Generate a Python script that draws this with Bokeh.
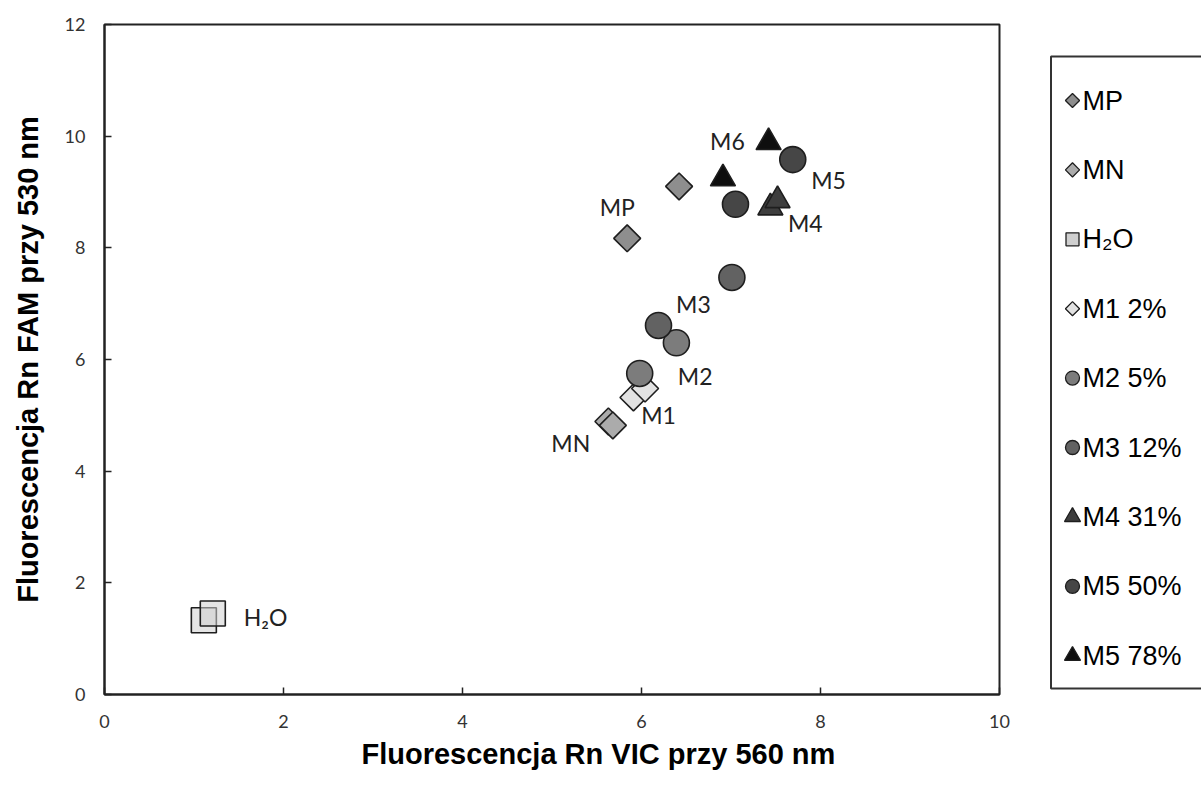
from bokeh.plotting import figure
from bokeh.models import Range1d, FixedTicker, ColumnDataSource, Title
from bokeh.layouts import row
from bokeh.core.properties import value
from bokeh.embed import file_html
from bokeh.resources import INLINE
import math

# ---- data ----
mp_x = [5.84, 6.42]
mp_y = [8.17, 9.10]
mn_x = [5.63, 5.68]
mn_y = [4.89, 4.82]
h2o_x = [1.11, 1.21]
h2o_y = [1.33, 1.45]
m1_x = [5.91, 6.04]
m1_y = [5.32, 5.48]
m2_x = [5.98, 6.39]
m2_y = [5.75, 6.30]
m3_x = [6.19, 7.01]
m3_y = [6.61, 7.47]
m4_x = [7.44, 7.52]
m4_y = [8.72, 8.85]
m5_x = [7.05, 7.69]
m5_y = [8.78, 9.58]
m6_x = [6.91, 7.42]
m6_y = [9.24, 9.89]

legend_labels = ["MP", "MN", "H\u2082O", "M1 2%", "M2 5%", "M3 12%", "M4 31%", "M5 50%", "M5 78%"]

point_labels = ["M6", "M5", "MP", "M4", "M3", "M2", "M1", "MN", "H\u2082O"]
point_label_x = [6.96, 8.09, 5.73, 7.83, 6.58, 6.60, 6.19, 5.21, 1.80]
point_label_y = [9.92, 9.21, 8.74, 8.44, 7.00, 5.71, 5.00, 4.51, 1.39]

x_ticks = [0, 2, 4, 6, 8, 10]
y_ticks = [0, 2, 4, 6, 8, 10, 12]

x_title = "Fluorescencja Rn VIC przy 560 nm"
y_title = "Fluorescencja Rn FAM przy 530 nm"

# ---- styles per series ----
edge = "#1e1e1e"
styles = [
    dict(marker="square", angle=math.pi / 4, fill="#8e8e8e", size=19, lsize=10),   # MP
    dict(marker="square", angle=math.pi / 4, fill="#ababab", size=19, lsize=10),   # MN
    dict(marker="square", angle=0.0, fill="#cfcfcf", size=25, lsize=13),           # H2O
    dict(marker="square", angle=math.pi / 4, fill="#e2e2e2", size=19, lsize=10),   # M1
    dict(marker="circle", angle=0.0, fill="#7c7c7c", size=26, lsize=14),           # M2
    dict(marker="circle", angle=0.0, fill="#626262", size=26, lsize=14),           # M3
    dict(marker="triangle", angle=0.0, fill="#3e3e3e", size=25, lsize=16),         # M4
    dict(marker="circle", angle=0.0, fill="#464646", size=26, lsize=14),           # M5 50
    dict(marker="triangle", angle=0.0, fill="#0e0e0e", size=25, lsize=16),         # M5 78
]
series = [(mp_x, mp_y), (mn_x, mn_y), (h2o_x, h2o_y), (m1_x, m1_y), (m2_x, m2_y),
          (m3_x, m3_y), (m4_x, m4_y), (m5_x, m5_y), (m6_x, m6_y)]

TOP, FRAME_H, BOTTOM = 24, 670, 93

# ---- main figure ----
p = figure(width=1049, height=787, frame_width=895, frame_height=FRAME_H,
           x_range=Range1d(0, 10), y_range=Range1d(0, 12),
           output_backend="svg", toolbar_location=None,
           min_border_left=104, min_border_right=50,
           min_border_top=TOP, min_border_bottom=BOTTOM)
p.grid.visible = False
p.outline_line_color = "#222222"
p.outline_line_width = 2
p.background_fill_color = "white"
p.border_fill_color = "white"

for ax, ticks in ((p.xaxis[0], x_ticks), (p.yaxis[0], y_ticks)):
    ax.ticker = FixedTicker(ticks=ticks)
    ax.minor_tick_line_color = None
    ax.major_tick_in = 7
    ax.major_tick_out = 0
    ax.major_tick_line_color = "#222222"
    ax.major_tick_line_width = 1.5
    ax.axis_line_color = "#222222"
    ax.axis_line_width = 2
    ax.major_label_text_font = "Lato"
    ax.major_label_text_font_size = "18px"
    ax.major_label_text_color = "#333333"
    ax.axis_label_text_font = "Liberation Sans"
    ax.axis_label_text_font_style = "bold"
    ax.axis_label_text_font_size = "29px"
    ax.axis_label_text_color = "black"

p.yaxis.axis_label = y_title
p.xaxis.major_label_standoff = 20
p.yaxis.major_label_standoff = 19
p.yaxis.axis_label_standoff = 18

xt = Title(text=x_title, align="left", offset=257, standoff=10,
           text_font="Liberation Sans", text_font_style="bold",
           text_font_size="29px", text_color="black")
p.add_layout(xt, "below")

for (sx, sy), st in zip(series, styles):
    p.scatter(sx, sy, marker=st["marker"], size=st["size"], angle=st["angle"],
              fill_color=st["fill"], fill_alpha=0.55 if st["size"] == 25 and st["marker"] == "square" else 1.0,
              line_color=edge, line_width=1.6)

lab_src = ColumnDataSource(dict(x=point_label_x, y=point_label_y, t=point_labels))
p.text(x="x", y="y", text="t", source=lab_src, text_font=value("Lato"),
       text_font_size="23px", text_color="#222222",
       text_align="center", text_baseline="middle")

# ---- legend panel (separate figure; y in page pixels, frame aligned with main frame) ----
LW = 152
q = figure(width=LW, height=787, frame_width=LW, frame_height=FRAME_H,
           x_range=Range1d(0, LW), y_range=Range1d(TOP + FRAME_H, TOP),
           output_backend="svg", toolbar_location=None,
           min_border_left=0, min_border_right=0,
           min_border_top=TOP, min_border_bottom=BOTTOM,
           x_axis_type=None, y_axis_type=None)
q.grid.visible = False
q.outline_line_color = None
q.background_fill_color = "white"
q.border_fill_color = "white"

box_top, box_bottom, box_left = 56, 688, 1.5
q.line([LW + 10, box_left, box_left, LW + 10], [box_top, box_top, box_bottom, box_bottom],
       line_color="#333333", line_width=2)

n = len(legend_labels)
first, pitch = 100.0, 69.4
ly = [first + i * pitch for i in range(n)]
for i, st in enumerate(styles):
    q.scatter([23], [ly[i]], marker=st["marker"], size=st["lsize"], angle=-st["angle"],
              fill_color=st["fill"], line_color=edge, line_width=1.3)
leg_src = ColumnDataSource(dict(x=[33] * n, y=ly, t=legend_labels))
q.text(x="x", y="y", text="t", source=leg_src, text_font=value("Liberation Sans"),
       text_font_size="27px", text_color="black",
       text_align="left", text_baseline="middle")

layout = row(p, q, spacing=0)
open("out.html", "w").write(file_html(layout, INLINE))
